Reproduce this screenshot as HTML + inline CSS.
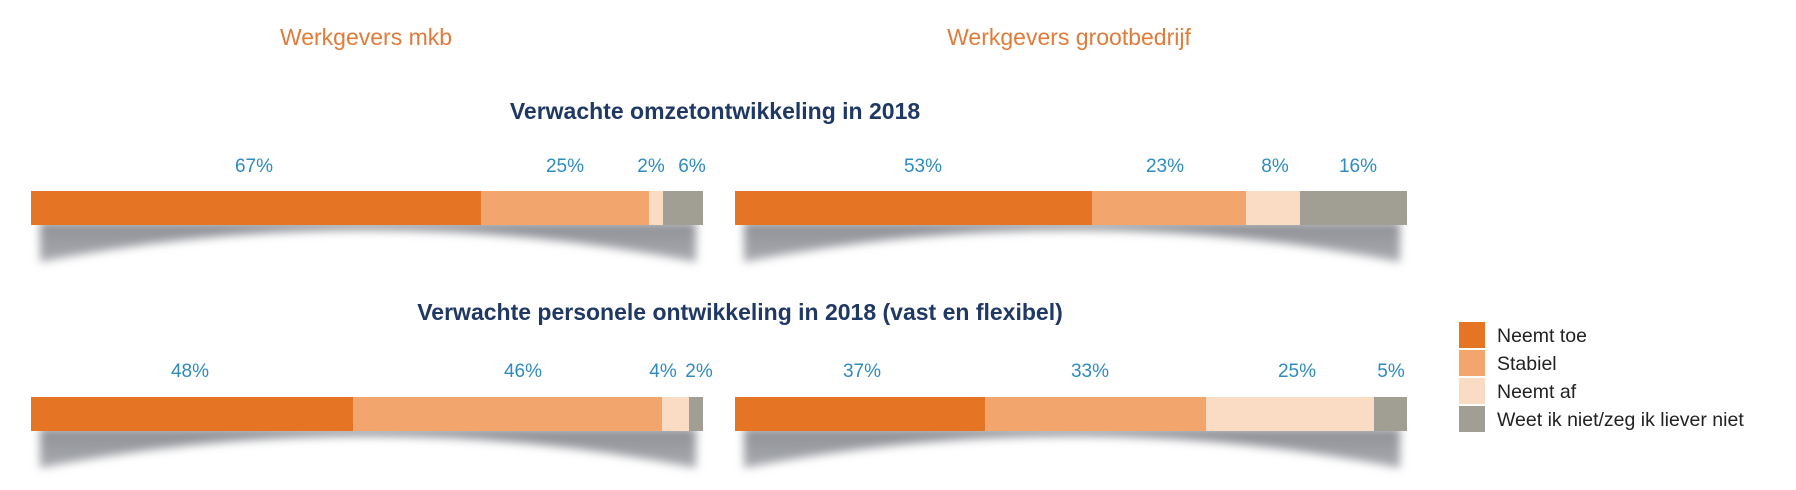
<!DOCTYPE html>
<html><head><meta charset="utf-8"><style>
body{margin:0;background:#fff;width:1796px;height:485px;overflow:hidden;font-family:"Liberation Sans",sans-serif;}
</style></head><body>
<svg width="1796" height="485" xmlns="http://www.w3.org/2000/svg" font-family="Liberation Sans, sans-serif">
<defs><filter id="b" x="-10%" y="-50%" width="120%" height="200%"><feGaussianBlur stdDeviation="4.5"/></filter>
<linearGradient id="g" x1="0" y1="0" x2="0" y2="1"><stop offset="0" stop-color="#8e9096"/><stop offset="1" stop-color="#a8aaaf"/></linearGradient></defs>
<text x="366" y="45" fill="#E07B3A" font-size="23" text-anchor="middle">Werkgevers mkb</text>
<text x="1069" y="45" fill="#E07B3A" font-size="23" text-anchor="middle">Werkgevers grootbedrijf</text>
<text x="715" y="119" fill="#1F3864" font-size="23" font-weight="bold" text-anchor="middle">Verwachte omzetontwikkeling in 2018</text>
<text x="740" y="320" fill="#1F3864" font-size="23" font-weight="bold" text-anchor="middle">Verwachte personele ontwikkeling in 2018 (vast en flexibel)</text>
<g fill="url(#g)" filter="url(#b)">
<path d="M40,222 L696,222 L696,262 Q367,198 40,262Z"/>
<path d="M744,222 L1400,222 L1400,262 Q1071,198 744,262Z"/>
<path d="M40,428 L696,428 L696,468 Q367,404 40,468Z"/>
<path d="M744,428 L1400,428 L1400,468 Q1071,404 744,468Z"/>
</g>
<!-- top left -->
<rect x="31" y="191" width="450" height="34" fill="#E57524"/>
<rect x="481" y="191" width="168" height="34" fill="#F2A66E"/>
<rect x="649" y="191" width="14" height="34" fill="#FADCC4"/>
<rect x="663" y="191" width="40" height="34" fill="#A19E94"/>
<!-- top right -->
<rect x="735" y="191" width="357" height="34" fill="#E57524"/>
<rect x="1092" y="191" width="154" height="34" fill="#F2A66E"/>
<rect x="1246" y="191" width="54" height="34" fill="#FADCC4"/>
<rect x="1300" y="191" width="107" height="34" fill="#A19E94"/>
<!-- bottom left -->
<rect x="31" y="397" width="322" height="34" fill="#E57524"/>
<rect x="353" y="397" width="309" height="34" fill="#F2A66E"/>
<rect x="662" y="397" width="27" height="34" fill="#FADCC4"/>
<rect x="689" y="397" width="14" height="34" fill="#A19E94"/>
<!-- bottom right -->
<rect x="735" y="397" width="250" height="34" fill="#E57524"/>
<rect x="985" y="397" width="221" height="34" fill="#F2A66E"/>
<rect x="1206" y="397" width="168" height="34" fill="#FADCC4"/>
<rect x="1374" y="397" width="33" height="34" fill="#A19E94"/>
<g fill="#2E8BC0" font-size="19" text-anchor="middle">
<text x="254" y="172">67%</text><text x="565" y="172">25%</text><text x="651" y="172">2%</text><text x="692" y="172">6%</text>
<text x="923" y="172">53%</text><text x="1165" y="172">23%</text><text x="1275" y="172">8%</text><text x="1358" y="172">16%</text>
<text x="190" y="377">48%</text><text x="523" y="377">46%</text><text x="663" y="377">4%</text><text x="699" y="377">2%</text>
<text x="862" y="377">37%</text><text x="1090" y="377">33%</text><text x="1297" y="377">25%</text><text x="1391" y="377">5%</text>
</g>
<rect x="1459" y="322" width="26" height="26" fill="#E57524"/>
<rect x="1459" y="350" width="26" height="26" fill="#F2A66E"/>
<rect x="1459" y="378" width="26" height="26" fill="#FADCC4"/>
<rect x="1459" y="406" width="26" height="26" fill="#A19E94"/>
<g fill="#222" font-size="19.5">
<text x="1497" y="342">Neemt toe</text>
<text x="1497" y="370">Stabiel</text>
<text x="1497" y="398">Neemt af</text>
<text x="1497" y="426">Weet ik niet/zeg ik liever niet</text>
</g>
</svg>
</body></html>
